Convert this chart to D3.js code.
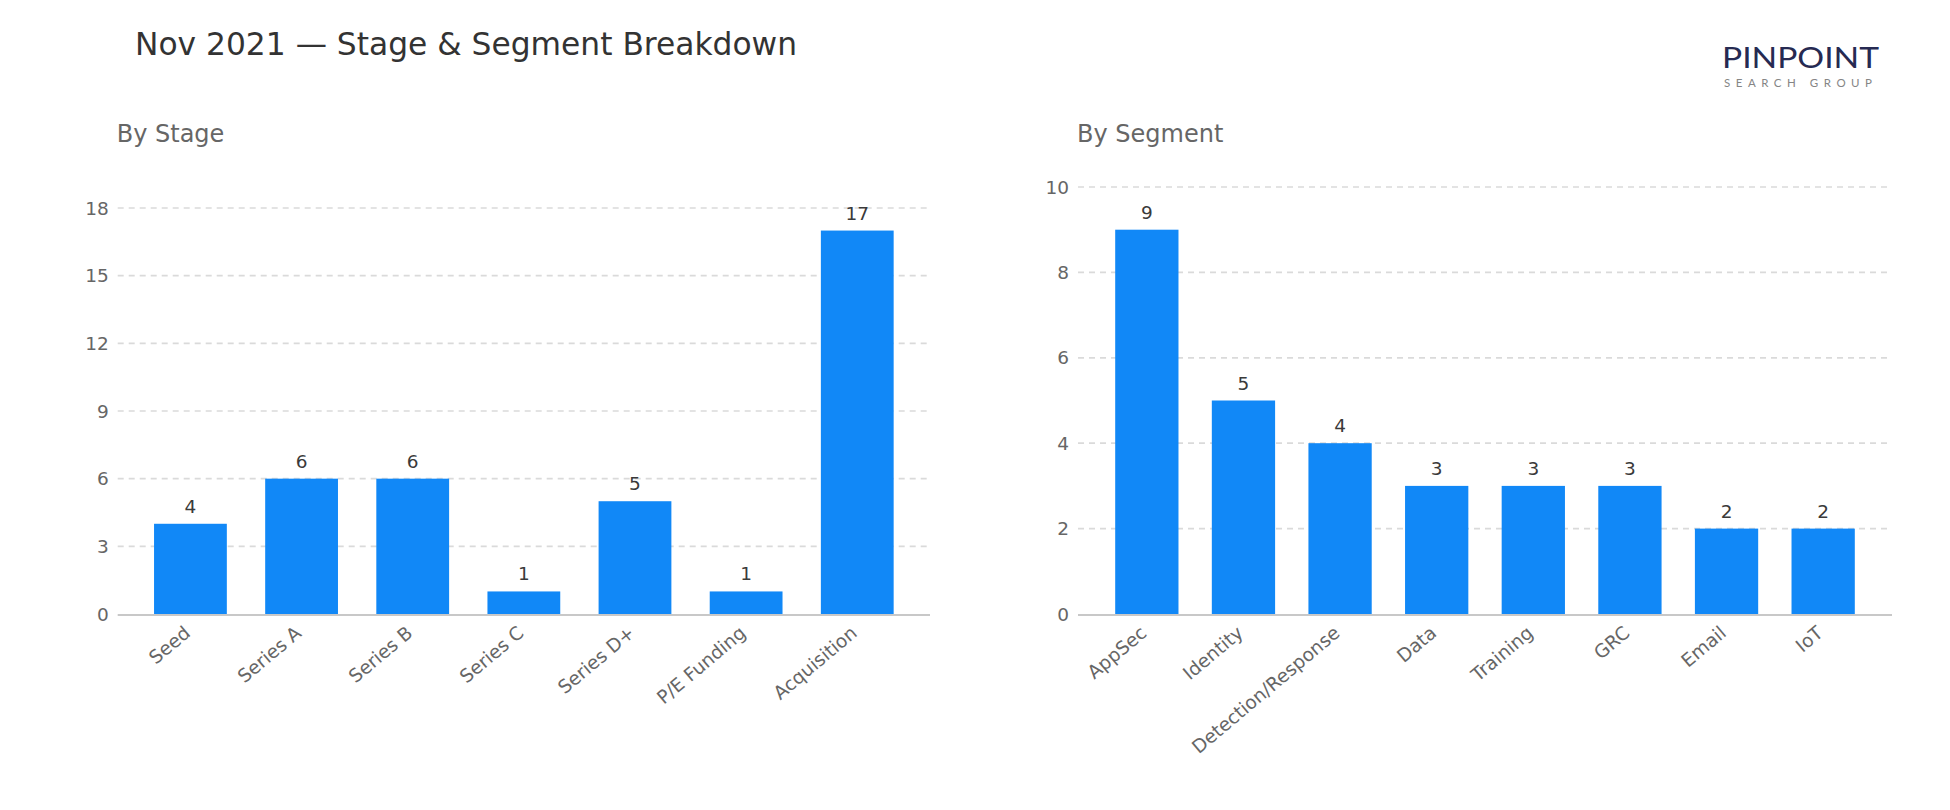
<!DOCTYPE html>
<html>
<head>
<meta charset="utf-8">
<script src="https://cdn.jsdelivr.net/npm/d3@7"></script>
<style>
    body { margin: 0; background: #fff; }
    text { font-family: "DejaVu Sans", sans-serif; }
</style>
</head>
<body>
<div id="chart"></div>
<script>
// data
let stageNames = ["Seed", "Series A", "Series B", "Series C", "Series D+", "P/E Funding", "Acquisition"];
let stageCounts = [4, 6, 6, 1, 5, 1, 17];
let stageTicks = [0, 3, 6, 9, 12, 15, 18];

let segmentNames = ["AppSec", "Identity", "Detection/Response", "Data", "Training", "GRC", "Email", "IoT"];
let segmentCounts = [9, 5, 4, 3, 3, 3, 2, 2];
let segmentTicks = [0, 2, 4, 6, 8, 10];

let width = 1950, height = 810;
let barColor = "#1188f7";

let svg = d3.select("#chart").append("svg")
    .attr("width", width)
    .attr("height", height);

// main title
svg.append("text")
    .attr("x", 135)
    .attr("y", 55)
    .text("Nov 2021 \u2014 Stage & Segment Breakdown")
    .style("font-size", "31.3px")
    .attr("fill", "#333");

// logo
svg.append("text")
    .attr("x", 1722)
    .attr("y", 68)
    .attr("textLength", 157)
    .attr("lengthAdjust", "spacingAndGlyphs")
    .text("PINPOINT")
    .style("font-family", "Lato, 'DejaVu Sans', sans-serif")
    .style("font-weight", "400")
    .style("font-size", "29px")
    .attr("fill", "#262a52");
svg.append("text")
    .attr("x", 1724)
    .attr("y", 87)
    .attr("textLength", 148)
    .attr("lengthAdjust", "spacing")
    .text("SEARCH GROUP")
    .style("font-family", "Lato, 'DejaVu Sans', sans-serif")
    .style("font-size", "11.5px")
    .attr("fill", "#858585");

function drawPanel(opts) {
    let g = svg.append("g");

    g.append("text")
        .attr("x", opts.left - 1)
        .attr("y", 142)
        .text(opts.title)
        .style("font-size", "24px")
        .attr("fill", "#666");

    let x = d3.scaleBand()
        .domain(opts.names)
        .range([opts.left, opts.right])
        .paddingInner(0.345)
        .paddingOuter(opts.outer);

    let y = d3.scaleLinear()
        .domain([0, opts.max])
        .range([614, opts.top]);

    // gridlines
    g.selectAll(".grid")
        .data(opts.ticks.filter(t => t > 0))
        .enter().append("line")
        .attr("x1", opts.left)
        .attr("x2", opts.right)
        .attr("y1", d => y(d))
        .attr("y2", d => y(d))
        .attr("stroke", "#dadada")
        .attr("stroke-width", 1.7)
        .style("stroke-dasharray", "6, 5");

    // y tick labels
    g.selectAll(".ytick")
        .data(opts.ticks)
        .enter().append("text")
        .attr("x", opts.left - 9)
        .attr("y", d => y(d))
        .attr("dy", "0.36em")
        .attr("text-anchor", "end")
        .text(d => d)
        .style("font-size", "18.5px")
        .attr("fill", "#666");

    // bars
    g.selectAll(".bar")
        .data(opts.counts)
        .enter().append("rect")
        .attr("x", (d, i) => x(opts.names[i]))
        .attr("y", d => y(d))
        .attr("width", x.bandwidth())
        .attr("height", d => y(0) - y(d))
        .attr("fill", barColor);

    // value labels
    g.selectAll(".val")
        .data(opts.counts)
        .enter().append("text")
        .attr("x", (d, i) => x(opts.names[i]) + x.bandwidth() / 2)
        .attr("y", d => y(d) - 11)
        .attr("text-anchor", "middle")
        .text(d => d)
        .style("font-size", "18.5px")
        .attr("fill", "#3a3a3a");

    // baseline
    g.append("line")
        .attr("x1", opts.left)
        .attr("x2", opts.right)
        .attr("y1", y(0) + 1)
        .attr("y2", y(0) + 1)
        .attr("stroke", "#c8c8c8")
        .attr("stroke-width", 2);

    // category labels
    g.selectAll(".xlab")
        .data(opts.names)
        .enter().append("text")
        .attr("transform", d => "translate(" + (x(d) + x.bandwidth() / 2 + 1) + ",635) rotate(-40)")
        .attr("text-anchor", "end")
        .text(d => d)
        .style("font-size", "18.6px")
        .attr("fill", "#666");
}

drawPanel({
    title: "By Stage",
    names: stageNames,
    counts: stageCounts,
    ticks: stageTicks,
    max: 18,
    top: 208,
    left: 117.7,
    right: 930,
    outer: 0.327
});

drawPanel({
    title: "By Segment",
    names: segmentNames,
    counts: segmentCounts,
    ticks: segmentTicks,
    max: 10,
    top: 187,
    left: 1078,
    right: 1892,
    outer: 0.385
});
</script>
</body>
</html>
